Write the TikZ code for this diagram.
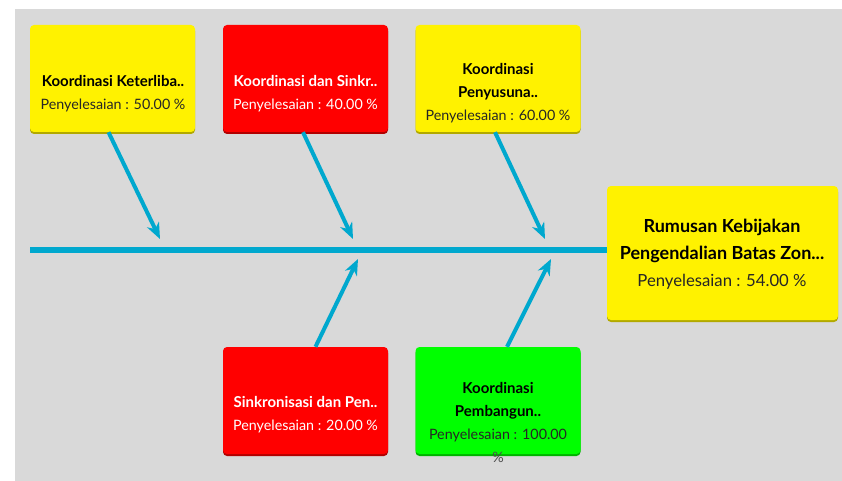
\documentclass[tikz,border=0pt]{standalone}
\usepackage{fontspec}
\setmainfont{Lato}
\usepackage{tikz}
\usetikzlibrary{arrows.meta,shadows}
\definecolor{tulang}{RGB}{0,168,206}
\definecolor{latar}{RGB}{217,217,217}
\definecolor{kuning}{RGB}{255,242,0}
\definecolor{merah}{RGB}{255,0,0}
\definecolor{hijau}{RGB}{0,255,0}
\newcommand{\judul}[1]{{\fontsize{15}{23}\selectfont\bfseries #1}}
\newcommand{\nilai}[1]{{\fontsize{14.3}{23}\selectfont #1}}
\tikzset{
  kotak/.style={fill=#1, rounded corners=4pt, inner sep=0pt,
    minimum width=165pt, minimum height=107pt,
    drop shadow={shadow xshift=0pt, shadow yshift=-2pt, fill=#1!70!black, opacity=1}},
  isi/.style={align=center, inner sep=0pt, text=#1,
    font=\fontsize{14.3}{23}\selectfont},
  panah/.style={draw=tulang, line width=4pt,
    -{Stealth[length=16pt, width=13pt, inset=5pt]}},
}
\begin{document}
\begin{tikzpicture}[x=1pt,y=-1pt]
% Drawing background
\useasboundingbox (0,0) rectangle (842,481);
\fill[white] (0,0) rectangle (842,481);
\fill[latar] (15,9) rectangle (842,481);
% Head of the fish
\node[kotak=kuning, minimum width=231pt, minimum height=134pt] (rumusan) at (722.5,253) {};
\node[isi=black, font=\fontsize{16.7}{27}\selectfont] (rumusanT) at (722,254)
  {{\fontsize{18}{27}\selectfont\bfseries Rumusan Kebijakan}\\
   {\fontsize{18}{27}\selectfont\bfseries Pengendalian Batas Zon...}\\
   {\color{black!85}Penyelesaian : 54.00 \%}};
% Spine
\coordinate (ekor) at (30,250);
\draw[tulang, line width=6.5pt] (ekor) -- (ekor -| rumusan.west);
% Line 1: upper boxes
\node[kotak=kuning] (k1) at (112.5,78.5) {};
\node[isi=black] (k1T) at (113,93.5) {\judul{Koordinasi Keterliba..}\\ \nilai{\color{black!85}Penyelesaian : 50.00 \%}};
\node[kotak=merah] (k2) at (305.5,78.5) {};
\node[isi=white] (k2T) at (305.5,93.5) {\judul{Koordinasi dan Sinkr..}\\ \nilai{Penyelesaian : 40.00 \%}};
\node[kotak=kuning] (k3) at (498,78.5) {};
\node[isi=black] (k3T) at (498,93) {\judul{Koordinasi}\\ \judul{Penyusuna..}\\ \nilai{\color{black!85}Penyelesaian : 60.00 \%}};
% Line 2: lower boxes
\node[kotak=merah] (k4) at (305.5,400.5) {};
\node[isi=white] (k4T) at (305.5,415) {\judul{Sinkronisasi dan Pen..}\\ \nilai{Penyelesaian : 20.00 \%}};
\node[kotak=hijau] (k5) at (498,400.5) {};
\node[isi=black] (k5T) at (498,422) {\judul{Koordinasi}\\ \judul{Pembangun..}\\ \nilai{\color{black!85}Penyelesaian : 100.00}\\ \nilai{\color{black!70}\%}};
% Drawing bones
\coordinate (u1) at (160,239);
\coordinate (u2) at (353,239);
\coordinate (u3) at (545,239);
\coordinate (d4) at (358,259);
\coordinate (d5) at (551,259);
\draw[panah] ([xshift=-4pt]k1.south) -- (u1);
\draw[panah] ([xshift=-2.5pt]k2.south) -- (u2);
\draw[panah] ([xshift=-3pt]k3.south) -- (u3);
\draw[panah] ([xshift=10pt]k4.north) -- (d4);
\draw[panah] ([xshift=9pt]k5.north) -- (d5);
% Done
\end{tikzpicture}
\end{document}
